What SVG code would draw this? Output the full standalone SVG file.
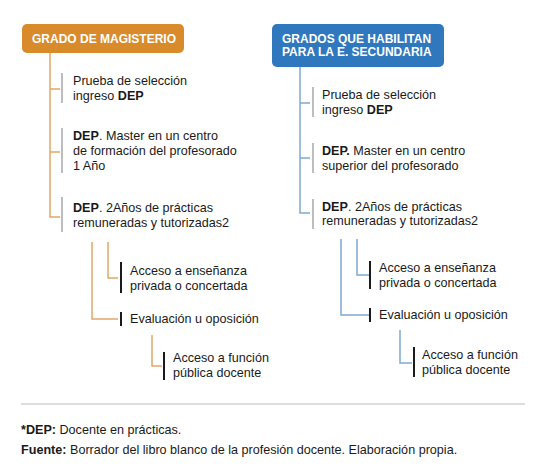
<svg xmlns="http://www.w3.org/2000/svg" width="545" height="476" viewBox="0 0 545 476">
<style>
text{font-family:"Liberation Sans",Arial,sans-serif;font-size:12.6px;fill:#1a1a1a}
.h{font-weight:bold;fill:#fff;font-size:12px}
.b{font-weight:bold}
.co{fill:none;stroke:#E2A865;stroke-width:1.5}
.cb{fill:none;stroke:#7EA9D2;stroke-width:1.5}
.gb{stroke:#BDBDBD;stroke-width:2}
.kb{stroke:#1a1a1a;stroke-width:2}
</style>
<rect width="545" height="476" fill="#fff"/>
<g id="connectors">
<path class="co" d="M50 53V217H60M50 89H60M50 152H60"/>
<path class="co" d="M92 242V319H118M108 242V278H118M152 335V366H162"/>
<path class="cb" d="M300 67V213H310M300 103H310M300 158H310"/>
<path class="cb" d="M341 239V315H369M357 239V275H369M400 330V363H412"/>
</g>
<g id="n-magisterio">
<rect x="22" y="24" width="162" height="29" rx="5" fill="#D98B2B"/>
<text class="h" x="32" y="43">GRADO DE MAGISTERIO</text>
</g>
<g id="n-secundaria">
<rect x="272" y="24" width="172" height="43" rx="5" fill="#2F78BE"/>
<text class="h" x="282" y="43">GRADOS QUE HABILITAN</text>
<text class="h" x="282" y="56">PARA LA E. SECUNDARIA</text>
</g>
<g id="l1">
<line class="gb" x1="62" y1="73" x2="62" y2="103"/>
<text x="73" y="85">Prueba de selección</text>
<text x="73" y="100">ingreso <tspan class="b">DEP</tspan></text>
</g>
<g id="l2">
<line class="gb" x1="62" y1="128" x2="62" y2="173"/>
<text x="73" y="140"><tspan class="b">DEP</tspan>. Master en un centro</text>
<text x="73" y="155">de formación del profesorado</text>
<text x="73" y="170">1 Año</text>
</g>
<g id="l3">
<line class="gb" x1="62" y1="197" x2="62" y2="232"/>
<text x="73" y="212"><tspan class="b">DEP</tspan>. 2Años de prácticas</text>
<text x="73" y="227">remuneradas y tutorizadas2</text>
</g>
<g id="l4">
<line class="kb" x1="121" y1="262" x2="121" y2="293"/>
<text x="130" y="275">Acceso a enseñanza</text>
<text x="130" y="290">privada o concertada</text>
</g>
<g id="l5">
<line class="kb" x1="121" y1="312" x2="121" y2="326"/>
<text x="130" y="323">Evaluación u oposición</text>
</g>
<g id="l6">
<line class="kb" x1="164" y1="352" x2="164" y2="380"/>
<text x="173" y="362">Acceso a función</text>
<text x="173" y="377">pública docente</text>
</g>
<g id="r1">
<line class="gb" x1="313" y1="87" x2="313" y2="117"/>
<text x="322" y="99">Prueba de selección</text>
<text x="322" y="114">ingreso <tspan class="b">DEP</tspan></text>
</g>
<g id="r2">
<line class="gb" x1="313" y1="143" x2="313" y2="173"/>
<text x="322" y="155"><tspan class="b">DEP.</tspan> Master en un centro</text>
<text x="322" y="170">superior del profesorado</text>
</g>
<g id="r3">
<line class="gb" x1="313" y1="199" x2="313" y2="229"/>
<text x="322" y="211"><tspan class="b">DEP</tspan>. 2Años de prácticas</text>
<text x="322" y="225">remuneradas y tutorizadas2</text>
</g>
<g id="r4">
<line class="kb" x1="370" y1="261" x2="370" y2="289"/>
<text x="379" y="272">Acceso a enseñanza</text>
<text x="379" y="287">privada o concertada</text>
</g>
<g id="r5">
<line class="kb" x1="370" y1="308" x2="370" y2="322"/>
<text x="379" y="319">Evaluación u oposición</text>
</g>
<g id="r6">
<line class="kb" x1="414" y1="347" x2="414" y2="377"/>
<text x="422" y="359">Acceso a función</text>
<text x="422" y="374">pública docente</text>
</g>
<line x1="21" y1="404" x2="525" y2="404" stroke="#DDDDDD" stroke-width="2"/>
<g id="footer">
<text x="21" y="434"><tspan class="b">*DEP:</tspan> Docente en prácticas.</text>
<text x="21" y="454"><tspan class="b">Fuente:</tspan> Borrador del libro blanco de la profesión docente. Elaboración propia.</text>
</g>
</svg>
